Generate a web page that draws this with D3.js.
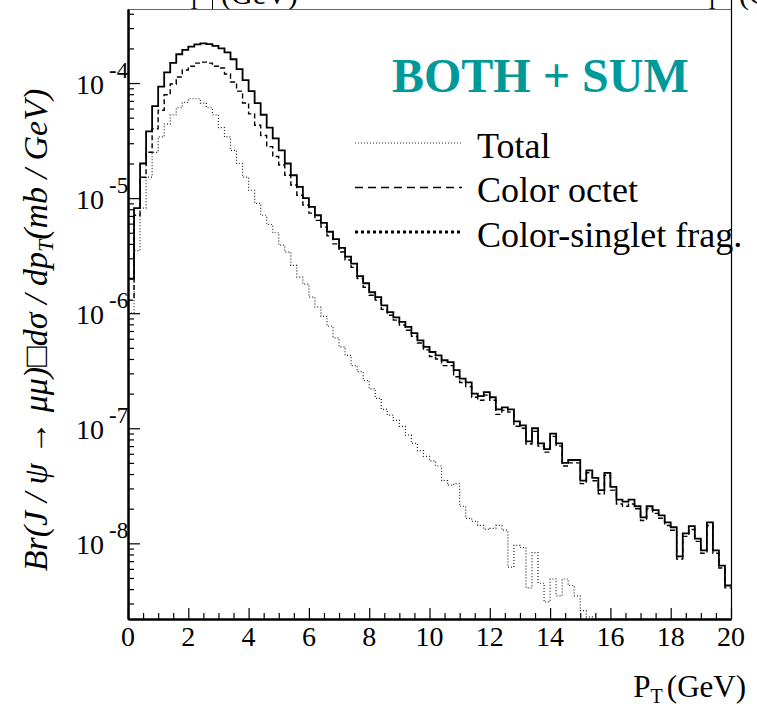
<!DOCTYPE html>
<html>
<head>
<meta charset="utf-8">
<script src="https://cdn.jsdelivr.net/npm/d3@7"></script>
<style>
  body { margin: 0; background: #fff; }
  svg { display: block; }
  text { font-family: "Liberation Serif", "Times New Roman", serif; fill: #000; }
</style>
</head>
<body>
<div id="chart"></div>
<script>
// bin lower edges, 100 bins of 0.2 GeV
var binLow = d3.range(0, 20, 0.2);
var xTickLabels = [0, 2, 4, 6, 8, 10, 12, 14, 16, 18, 20];
var yDecades = [-4, -5, -6, -7, -8];

// solid line (upper curve)
var sumSolid = [2.0e-6, 8.2e-6, 2.0e-5, 3.8e-5, 6.3e-5, 9.3e-5, 1.24e-4, 1.50e-4, 1.78e-4, 1.94e-4,
  2.07e-4, 2.17e-4, 2.21e-4, 2.18e-4, 2.10e-4, 2.00e-4, 1.85e-4, 1.61e-4, 1.32e-4, 1.06e-4,
  8.5e-5, 6.7e-5, 5.3e-5, 4.1e-5, 3.3e-5, 2.6e-5, 2.0e-5, 1.58e-5, 1.25e-5, 1.0e-5,
  8.4e-6, 7.1e-6, 6.1e-6, 5.1e-6, 4.4e-6, 3.7e-6, 3.1e-6, 2.7e-6, 2.1e-6, 1.82e-6,
  1.52e-6, 1.38e-6, 1.17e-6, 1.02e-6, 9.2e-7, 8.4e-7, 7.6e-7, 6.7e-7, 5.8e-7, 5.1e-7,
  4.6e-7, 4.3e-7, 3.9e-7, 3.75e-7, 3.2e-7, 2.7e-7, 2.5e-7, 2.0e-7, 1.9e-7, 2.06e-7,
  1.86e-7, 1.46e-7, 1.52e-7, 1.46e-7, 1.15e-7, 1.06e-7, 7.7e-8, 1.0e-7, 7.4e-8, 6.6e-8,
  9.0e-8, 7.4e-8, 5.0e-8, 5.3e-8, 5.3e-8, 3.5e-8, 4.3e-8, 3.7e-8, 2.9e-8, 4.1e-8,
  3.1e-8, 2.4e-8, 2.3e-8, 2.4e-8, 2.1e-8, 1.68e-8, 2.1e-8, 1.94e-8, 1.75e-8, 1.52e-8,
  1.38e-8, 7.7e-9, 1.22e-8, 1.41e-8, 1.10e-8, 8.7e-9, 1.52e-8, 8.7e-9, 6.4e-9, 4.3e-9];

// dashed line
var octetDashed = [1.3e-6, 7.1e-6, 1.52e-5, 2.5e-5, 4.0e-5, 5.8e-5, 7.9e-5, 9.8e-5, 1.13e-4, 1.30e-4,
  1.40e-4, 1.49e-4, 1.52e-4, 1.49e-4, 1.40e-4, 1.35e-4, 1.20e-4, 1.02e-4, 8.5e-5, 6.7e-5,
  5.4e-5, 4.3e-5, 3.5e-5, 2.8e-5, 2.3e-5, 1.94e-5, 1.58e-5, 1.30e-5, 1.06e-5, 8.7e-6,
  7.4e-6, 6.4e-6, 5.6e-6, 4.7e-6, 4.0e-6, 3.4e-6, 2.9e-6, 2.5e-6, 2.0e-6, 1.68e-6,
  1.43e-6, 1.30e-6, 1.08e-6, 9.6e-7, 8.7e-7, 7.9e-7, 7.1e-7, 6.3e-7, 5.5e-7, 4.8e-7,
  4.2e-7, 4.0e-7, 3.5e-7, 3.5e-7, 2.8e-7, 2.5e-7, 2.3e-7, 1.86e-7, 1.75e-7, 1.94e-7,
  1.75e-7, 1.32e-7, 1.43e-7, 1.38e-7, 1.04e-7, 1.0e-7, 7.3e-8, 9.4e-8, 7.0e-8, 6.2e-8,
  8.5e-8, 7.0e-8, 4.7e-8, 5.0e-8, 5.0e-8, 3.3e-8, 4.1e-8, 3.5e-8, 2.7e-8, 3.9e-8,
  2.9e-8, 2.2e-8, 2.1e-8, 2.2e-8, 2.0e-8, 1.58e-8, 2.0e-8, 1.82e-8, 1.65e-8, 1.43e-8,
  1.30e-8, 7.3e-9, 1.15e-8, 1.32e-8, 1.04e-8, 8.2e-9, 1.43e-8, 8.2e-9, 6.1e-9, 4.1e-9];

// fine dotted line (lower curve), empty bins = 0
var totalDotted = [1.0e-6, 3.5e-6, 8.2e-6, 1.52e-5, 2.5e-5, 3.4e-5, 4.4e-5, 5.3e-5, 6.1e-5, 6.8e-5,
  7.3e-5, 7.3e-5, 6.7e-5, 6.1e-5, 5.3e-5, 4.1e-5, 3.4e-5, 2.6e-5, 2.0e-5, 1.52e-5,
  1.17e-5, 9.0e-6, 7.1e-6, 5.9e-6, 5.0e-6, 3.9e-6, 3.4e-6, 2.6e-6, 2.06e-6, 1.79e-6,
  1.38e-6, 1.13e-6, 9.4e-7, 7.7e-7, 6.1e-7, 5.1e-7, 4.3e-7, 3.5e-7, 3.1e-7, 2.6e-7,
  2.2e-7, 1.82e-7, 1.46e-7, 1.30e-7, 1.17e-7, 1.04e-7, 8.7e-8, 7.4e-8, 6.4e-8, 5.7e-8,
  5.2e-8, 4.7e-8, 3.5e-8, 3.2e-8, 3.3e-8, 2.1e-8, 1.65e-8, 1.55e-8, 1.43e-8, 1.32e-8,
  1.35e-8, 1.43e-8, 1.30e-8, 6.2e-9, 9.6e-9, 9.2e-9, 4.1e-9, 8.3e-9, 4.5e-9, 3.1e-9,
  4.9e-9, 3.5e-9, 4.9e-9, 4.3e-9, 3.5e-9, 2.6e-9, 2.3e-9, 0, 0, 0,
  0, 0, 0, 0, 0, 0, 0, 0, 0, 0,
  0, 0, 0, 0, 0, 0, 0, 0, 0, 0];

var legendLabels = ["Total", "Color octet", "Color-singlet frag."];

var W = 757, H = 704;
var svg = d3.select("#chart").append("svg").attr("width", W).attr("height", H);

var x = d3.scaleLinear().domain([0, 20]).range([128, 731]);
var y = d3.scaleLog().domain([2.2e-9, 4.4e-4]).range([619, 9]);

// clipped remains of the neighbour panels' titles at the very top
var topT = svg.append("g").style("font-size", "30px");
topT.append("text").attr("x", 188).attr("y", 9).style("font-size", "20px").text("T");
topT.append("text").attr("x", 221).attr("y", 4).text("(GeV)");
topT.append("text").attr("x", 706).attr("y", 9).style("font-size", "20px").text("T");
topT.append("text").attr("x", 739).attr("y", 4).text("(GeV)");
svg.append("line").attr("x1", 212.5).attr("x2", 212.5).attr("y1", 0).attr("y2", 9)
  .attr("stroke", "#000").attr("stroke-width", 1);

// frame
svg.append("line").attr("x1", x(0)).attr("x2", x(20)).attr("y1", 9.5).attr("y2", 9.5)
  .attr("stroke", "#666").attr("stroke-width", 1);
svg.append("line").attr("x1", 731.5).attr("x2", 731.5).attr("y1", 0).attr("y2", 619)
  .attr("stroke", "#000").attr("stroke-width", 1.2);

svg.append("clipPath").attr("id", "plotclip").append("rect")
  .attr("x", 128).attr("y", 9).attr("width", 603).attr("height", 610);

var stepLine = d3.line().curve(d3.curveStepAfter);
function histPoints(vals) {
  var pts = vals.map(function (v, i) {
    return [x(binLow[i]), v > 0 ? y(v) : y.range()[0]];
  });
  pts.push([x(20), pts[pts.length - 1][1]]);
  return pts;
}

var plot = svg.append("g").attr("clip-path", "url(#plotclip)");
plot.append("path").attr("d", stepLine(histPoints(totalDotted)))
  .attr("fill", "none").attr("stroke", "#222").attr("stroke-width", 1.2)
  .attr("stroke-dasharray", "1,2");
plot.append("path").attr("d", stepLine(histPoints(octetDashed)))
  .attr("fill", "none").attr("stroke", "#000").attr("stroke-width", 1.4)
  .attr("stroke-dasharray", "5,3");
plot.append("path").attr("d", stepLine(histPoints(sumSolid)))
  .attr("fill", "none").attr("stroke", "#000").attr("stroke-width", 1.8);

// axes, ticks pointing inside
var yAll = y.ticks();
var yMajor = yAll.filter(function (v) { return Math.abs(Math.log10(v) - Math.round(Math.log10(v))) < 1e-6; });
var yMinor = yAll.filter(function (v) { return yMajor.indexOf(v) < 0; });

function styleAxis(g) {
  g.selectAll("path").attr("stroke", "#000").attr("stroke-width", 2);
  g.selectAll("line").attr("stroke", "#000").attr("stroke-width", 1.2);
}
svg.append("g").attr("transform", "translate(128,0)")
  .call(d3.axisLeft(y).tickValues(yMinor).tickSize(-6).tickSizeOuter(0).tickFormat(""))
  .call(styleAxis);
svg.append("g").attr("transform", "translate(128,0)")
  .call(d3.axisLeft(y).tickValues(yMajor).tickSize(-12).tickSizeOuter(0).tickFormat(""))
  .call(styleAxis);

var xMinor = d3.range(0, 20.01, 0.5).filter(function (v) { return v % 2 !== 0; });
svg.append("g").attr("transform", "translate(0,619)")
  .call(d3.axisBottom(x).tickValues(xMinor).tickSize(-6).tickSizeOuter(0).tickFormat(""))
  .call(styleAxis);
svg.append("g").attr("transform", "translate(0,619)")
  .call(d3.axisBottom(x).tickValues(xTickLabels).tickSize(-11).tickSizeOuter(0).tickFormat(""))
  .call(styleAxis);

// tick labels
svg.append("g").selectAll("text").data(xTickLabels).enter().append("text")
  .attr("x", function (d) { return x(d); }).attr("y", 646)
  .attr("text-anchor", "middle").style("font-size", "28px")
  .text(function (d) { return d; });

var yl = svg.append("g").selectAll("g").data(yDecades).enter().append("g");
yl.append("text").attr("x", 104).attr("y", function (d) { return y(Math.pow(10, d)) + 11; })
  .attr("text-anchor", "end").style("font-size", "28px").text("10");
yl.append("text").attr("x", 109).attr("y", function (d) { return y(Math.pow(10, d)) - 5; })
  .style("font-size", "23px").text(function (d) { return d; });

// axis titles
var xt = svg.append("text").attr("x", 746).attr("y", 697).attr("text-anchor", "end")
  .style("font-size", "31px");
xt.append("tspan").text("P");
xt.append("tspan").attr("dy", 6).style("font-size", "20px").text("T");
xt.append("tspan").attr("dy", -6).attr("dx", 4).text("(GeV)");

var yt = svg.append("text").attr("transform", "translate(47,330) rotate(-90)")
  .attr("text-anchor", "middle").style("font-size", "34px").style("font-style", "italic");
yt.append("tspan").text("Br(J / \u03c8 \u2192 \u03bc\u03bc)\u25a1d\u03c3 / dp");
yt.append("tspan").attr("dy", 6).style("font-size", "22px").text("T");
yt.append("tspan").attr("dy", -6).text("(mb / GeV)");

// title
svg.append("text").attr("x", 392).attr("y", 92)
  .style("font-size", "48px").style("font-weight", "bold").style("fill", "#009999")
  .text("BOTH + SUM");

// legend
var legendDash = ["1,2", "8,5", "3,3"];
var legendWidth = [1.2, 1.5, 3];
var legendStroke = ["#222", "#000", "#000"];
var lg = svg.append("g").selectAll("g").data(legendLabels).enter().append("g")
  .attr("transform", function (d, i) { return "translate(0," + (143 + i * 44.5) + ")"; });
lg.append("line").attr("x1", 355).attr("x2", 462).attr("y1", 0).attr("y2", 0)
  .attr("stroke", function (d, i) { return legendStroke[i]; })
  .attr("stroke-width", function (d, i) { return legendWidth[i]; })
  .attr("stroke-dasharray", function (d, i) { return legendDash[i]; });
lg.append("text").attr("x", 477).attr("y", 14.5).style("font-size", "36px")
  .text(function (d) { return d; });
</script>
</body>
</html>
